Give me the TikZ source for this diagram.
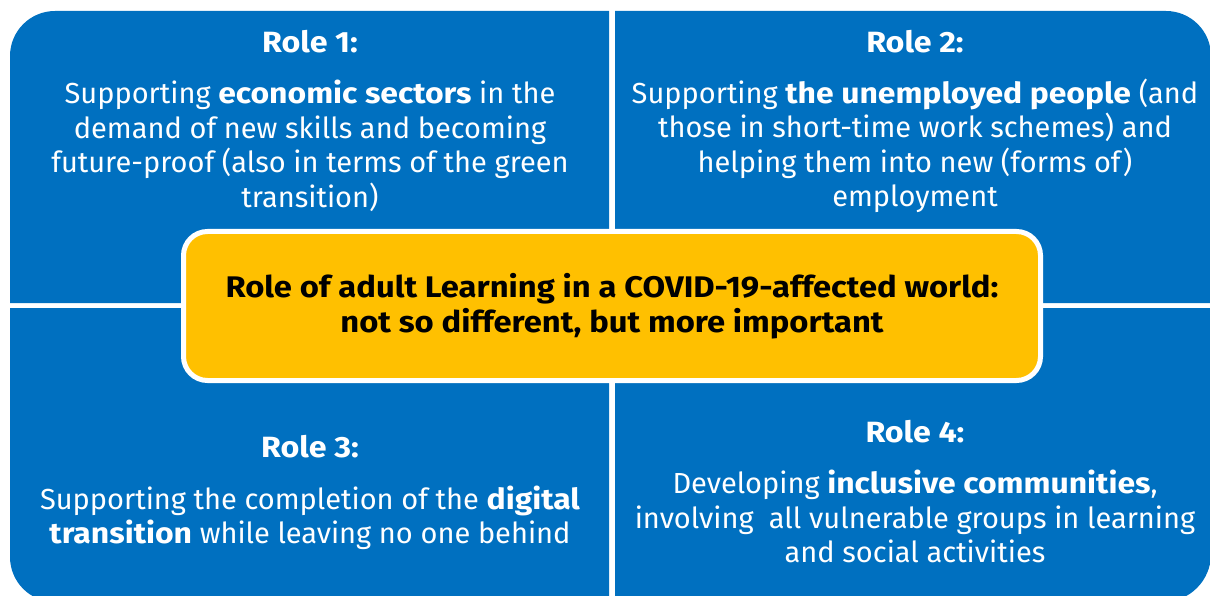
\documentclass[tikz,border=0pt]{standalone}
\usepackage{fontspec}
\setmainfont{Fira Sans}[BoldFeatures={FakeStretch=1.1}]
\definecolor{ecblue}{HTML}{0070C0}
\definecolor{ecyellow}{HTML}{FFC000}
\begin{document}
\begin{tikzpicture}[x=1pt,y=-1pt,
  quad/.style={fill=ecblue},
  title/.style={text=white,font=\fontsize{29.3}{34}\selectfont\bfseries,inner sep=0pt},
  body/.style={text=white,font=\fontsize{29}{34.5}\selectfont,align=center,inner sep=0pt},
  core/.style={fill=ecyellow,draw=white,line width=5pt,rounded corners=24pt,
    font=\fontsize{29.8}{35}\selectfont\bfseries,align=center,text=black,
    minimum width=857pt,minimum height=149pt}]
\useasboundingbox (0,0) rectangle (1210,596);
% quadrants
\fill[quad] (10,303) -- (10,56) arc[start angle=180,end angle=270,radius=45] -- (609,11) -- (609,303) -- cycle;
\fill[quad] (615,303) -- (615,11) -- (1166,11) arc[start angle=270,end angle=360,radius=45] -- (1211,303) -- cycle;
\fill[quad] (10,308) -- (609,308) -- (609,602) -- (55,602) arc[start angle=90,end angle=180,radius=45] -- cycle;
\fill[quad] (615,308) -- (1211,308) -- (1211,554) arc[start angle=0,end angle=90,radius=48] -- (615,602) -- cycle;
% centre
\node[core] (centre) at (612,306) {Role of adult Learning in a COVID-19-affected world:\\not so different, but more important};
% texts
\node[title] (t1) at (310,42) {Role 1:};
\node[body] (b1) at (310,146) {Supporting \textbf{economic sectors} in the\\demand of new skills and becoming\\future-proof (also in terms of the green\\transition)};
\node[title] (t2) at (915,42) {Role 2:};
\node[body] (b2) at (915,146) {Supporting \textbf{the unemployed people} (and\\those in short-time work schemes) and\\helping them into new (forms of)\\employment};
\node[title] (t3) at (310,447) {Role 3:};
\node[body] (b3) at (310,518) {Supporting the completion of the \textbf{digital}\\\textbf{transition} while leaving no one behind};
\node[title] (t4) at (915,432) {Role 4:};
\node[body] (b4) at (915,516.5) {Developing \textbf{inclusive communities},\\involving\ \ all vulnerable groups in learning\\and social activities};
\end{tikzpicture}
\end{document}
